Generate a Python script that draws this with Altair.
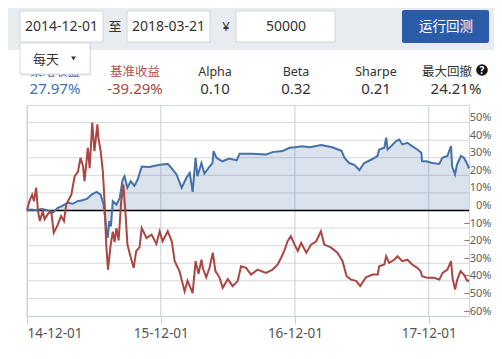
import altair as alt
import pandas as pd

# ---------------- data ----------------
blue_dates = ["2014-12-01", "2014-12-10", "2014-12-25", "2015-01-10", "2015-01-25", "2015-02-09", "2015-02-23",
              "2015-03-06", "2015-03-22", "2015-04-05", "2015-04-18", "2015-05-01", "2015-05-13", "2015-05-26",
              "2015-06-09", "2015-06-20", "2015-06-28", "2015-07-06", "2015-07-09", "2015-07-14", "2015-07-18",
              "2015-07-23", "2015-08-02", "2015-08-11", "2015-08-19", "2015-08-24", "2015-09-01", "2015-09-10",
              "2015-09-20", "2015-09-29", "2015-10-10", "2015-10-31", "2015-11-28", "2015-12-20", "2015-12-31",
              "2016-01-13", "2016-01-27", "2016-02-09", "2016-02-18", "2016-02-26", "2016-03-05", "2016-03-10",
              "2016-03-21", "2016-03-29", "2016-04-12", "2016-04-20", "2016-04-23", "2016-05-01", "2016-05-17",
              "2016-06-05", "2016-06-25", "2016-07-03", "2016-08-07", "2016-09-14", "2016-10-01", "2016-10-28",
              "2016-11-16", "2016-11-30", "2016-12-21", "2017-01-10", "2017-02-11", "2017-03-13", "2017-04-07",
              "2017-04-15", "2017-04-28", "2017-05-12", "2017-05-26", "2017-06-08", "2017-06-28", "2017-07-14",
              "2017-07-19", "2017-08-02", "2017-08-07", "2017-08-11", "2017-08-21", "2017-09-03", "2017-09-12",
              "2017-09-20", "2017-10-04", "2017-10-17", "2017-10-31", "2017-11-11", "2017-11-13", "2017-11-24",
              "2017-12-11", "2017-12-30", "2018-01-07", "2018-01-21", "2018-01-31", "2018-02-03", "2018-02-11",
              "2018-02-16", "2018-02-27", "2018-03-07", "2018-03-15", "2018-03-21"]
blue_vals = [0.0, 0.5, 0.3, 0.8, 0.2, -1.3, 1.5,
             2.5, 4.4, 3.8, 5.3, 5.8, 6.6, 9.0,
             10.6, 9.0, 3.4, -11.8, -15.6, -6.0, -9.0,
             5.3, 3.4, 7.0, 17.6, 19.5, 13.0, 16.7,
             14.0, 17.6, 25.0, 24.7, 26.0, 26.5, 24.0,
             20.5, 13.0, 18.6, 21.4, 10.6, 30.0, 19.5,
             27.0, 21.0, 25.0, 27.0, 33.8, 30.0, 28.0,
             29.6, 28.5, 32.3, 32.3, 31.9, 33.2, 33.8,
             35.7, 36.0, 36.6, 36.0, 37.2, 36.0, 34.0,
             30.0, 27.0, 26.0, 23.0, 27.0, 29.0, 31.0,
             34.7, 35.7, 41.4, 34.7, 36.6, 39.5, 40.4,
             37.6, 38.5, 36.6, 34.7, 32.8, 28.0, 28.0,
             27.0, 26.5, 30.0, 31.0, 36.6, 25.0, 20.5,
             26.0, 31.0, 30.0, 27.0, 24.0]

red_dates = ["2014-12-01", "2014-12-05", "2014-12-09", "2014-12-15", "2014-12-20", "2014-12-26", "2014-12-31",
             "2015-01-05", "2015-01-13", "2015-01-18", "2015-01-27", "2015-02-05", "2015-02-12", "2015-02-23",
             "2015-03-04", "2015-03-12", "2015-03-18", "2015-04-01", "2015-04-10", "2015-04-19", "2015-04-26",
             "2015-05-03", "2015-05-07", "2015-05-16", "2015-05-21", "2015-05-28", "2015-06-03", "2015-06-11",
             "2015-06-14", "2015-06-20", "2015-06-26", "2015-07-01", "2015-07-05", "2015-07-10", "2015-07-17",
             "2015-07-23", "2015-07-28", "2015-08-02", "2015-08-08", "2015-08-15", "2015-08-21", "2015-08-27",
             "2015-09-01", "2015-09-08", "2015-09-18", "2015-09-25", "2015-10-04", "2015-10-10", "2015-10-23",
             "2015-11-06", "2015-11-19", "2015-11-28", "2015-12-06", "2015-12-20", "2015-12-31", "2016-01-08",
             "2016-01-21", "2016-02-04", "2016-02-12", "2016-02-26", "2016-03-05", "2016-03-13", "2016-03-21",
             "2016-03-25", "2016-04-03", "2016-04-12", "2016-04-21", "2016-04-28", "2016-05-09", "2016-05-18",
             "2016-06-01", "2016-06-14", "2016-06-28", "2016-07-07", "2016-07-21", "2016-08-03", "2016-08-21",
             "2016-09-13", "2016-10-01", "2016-10-15", "2016-10-24", "2016-11-02", "2016-11-11", "2016-11-20",
             "2016-11-30", "2016-12-09", "2016-12-18", "2017-01-01", "2017-01-14", "2017-01-28", "2017-02-10",
             "2017-02-19", "2017-03-09", "2017-03-27", "2017-04-10", "2017-04-21", "2017-05-03", "2017-05-17",
             "2017-05-28", "2017-06-13", "2017-07-01", "2017-07-15", "2017-07-19", "2017-08-02", "2017-08-07",
             "2017-08-15", "2017-08-29", "2017-09-07", "2017-09-20", "2017-10-04", "2017-10-17", "2017-10-31",
             "2017-11-09", "2017-11-13", "2017-11-27", "2017-12-16", "2017-12-30", "2018-01-08", "2018-01-21",
             "2018-01-31", "2018-02-04", "2018-02-11", "2018-02-17", "2018-02-26", "2018-03-07", "2018-03-16",
             "2018-03-21"]
red_vals = [0.0, 3.4, 6.0, 9.0, 5.3, 13.0, -0.4,
            -6.0, -0.4, -5.0, -2.0, -0.4, -12.7, -8.0,
            -3.2, -6.0, 3.4, 9.0, 19.5, 22.0, 30.0,
            25.0, 16.7, 35.7, 24.0, 50.0, 33.8, 49.0,
            41.0, 33.8, 22.0, 3.4, -19.0, -33.6, -20.0,
            -12.0, -18.0, -10.0, -17.0, 5.0, 14.8, -2.3,
            -19.4, -25.0, -32.6, -23.0, -21.0, -10.0, -15.6,
            -13.7, -19.0, -11.8, -17.5, -11.8, -17.5, -28.8,
            -34.5, -46.0, -40.0, -47.0, -28.8, -36.0, -28.0,
            -33.0, -38.0, -32.6, -24.0, -34.5, -38.0, -44.0,
            -39.0, -43.0, -40.0, -31.7, -32.6, -36.4, -33.6,
            -35.5, -33.6, -30.7, -27.0, -23.0, -17.5, -14.6,
            -19.4, -23.0, -18.4, -24.0, -19.4, -17.5, -11.8,
            -19.4, -21.0, -24.0, -28.8, -37.4, -39.3, -40.0,
            -43.0, -38.0, -36.4, -36.4, -31.7, -30.7, -26.0,
            -29.8, -28.0, -26.0, -28.8, -28.0, -30.7, -32.6,
            -34.5, -37.4, -38.3, -38.3, -39.3, -35.5, -33.6,
            -28.8, -38.3, -45.0, -39.3, -34.5, -36.4, -40.0,
            -40.0]

x_tick_dates = ["2014-12-01", "2015-12-01", "2016-12-01", "2017-12-01"]
y_ticks = [-60, -50, -40, -30, -20, -10, 0, 10, 20, 30, 40, 50]
y_grid = [-50, -40, -30, -20, -10, 10, 20, 30, 40, 50]

start_text, end_text, capital_text = "2014-12-01", "2018-03-21", "50000"
freq_text = "每天"
run_text = "运行回测"
stat_names = ["策略收益", "基准收益", "Alpha", "Beta", "Sharpe", "最大回撤"]
stat_values = ["27.97%", "-39.29%", "0.10", "0.32", "0.21", "24.21%"]

# ---------------- layout helpers ----------------
OX, OY = 27, 105          # page position of the plot area's top-left corner
W, H = 442, 211

def vx(x):
    return x - OX

def vy(y):
    return y - OY

one = pd.DataFrame({"k": [0]})
LATIN = "Noto Sans"
CJK = "Noto Sans CJK SC"

def box(x1, y1, x2, y2, fill, stroke=None, radius=0, opacity=1.0):
    kw = dict(fill=fill, opacity=opacity, cornerRadius=radius)
    if stroke:
        kw.update(stroke=stroke, strokeWidth=1)
    return alt.Chart(one).mark_rect(**kw).encode(
        x=alt.value(vx(x1)), x2=alt.value(vx(x2)),
        y=alt.value(vy(y1)), y2=alt.value(vy(y2)))

def label(text, x, y, size, color, font=LATIN, weight="normal", align="center"):
    return alt.Chart(one).mark_text(
        text=text, fontSize=size, color=color, font=font, fontWeight=weight,
        align=align, baseline="middle").encode(x=alt.value(vx(x)), y=alt.value(vy(y)))

ui = []
ui.append(box(0, 0, 520, 50, "#E8EBF0"))
# inputs
ui.append(box(20, 11, 103, 42, "#FFFFFF", stroke="#D2D5DA"))
ui.append(label(start_text, 61.5, 26.5, 14, "#333333"))
ui.append(label("至", 115, 26.5, 13, "#333333", font=CJK))
ui.append(box(127, 11, 210, 42, "#FFFFFF", stroke="#D2D5DA"))
ui.append(label(end_text, 168.5, 26.5, 14, "#333333"))
ui.append(label("¥", 226, 26.5, 13, "#333333"))
ui.append(box(236, 11, 335, 42, "#FFFFFF", stroke="#D2D5DA"))
ui.append(label(capital_text, 286, 26.5, 14, "#333333"))
# button
ui.append(box(402, 10, 489, 43, "#2A5CAA", radius=2))
ui.append(label(run_text, 446, 27, 13.5, "#FFFFFF", font=CJK))

# statistics
stat_x = [55, 135, 215, 296, 376, 447]
value_x = [55, 135, 215, 296, 376, 456]
label_colors = ["#4572A7", "#B0504D", "#333333", "#333333", "#333333", "#333333"]
value_colors = ["#3F6FAE", "#A94442", "#333333", "#333333", "#333333", "#333333"]
for i, (n, v) in enumerate(zip(stat_names, stat_values)):
    f = CJK if any(ord(c) > 127 for c in n) else LATIN
    ui.append(label(n, stat_x[i], 71.5, 12.5, label_colors[i], font=f))
    ui.append(label(v, value_x[i], 89, 15, value_colors[i]))
# help icon
ui.append(alt.Chart(one).mark_point(shape="circle", filled=True, color="#111111", size=135, opacity=1).encode(
    x=alt.value(vx(482)), y=alt.value(vy(70))))
ui.append(label("?", 482, 70.5, 10, "#FFFFFF", weight="bold"))

# dropdown (drawn over the first stat label)
ui.append(box(21, 44, 91, 76, "#000000", opacity=0.07))
ui.append(box(20, 43, 90, 74, "#FFFFFF", stroke="#D8DADD"))
ui.append(label(freq_text, 46, 60, 13, "#333333", font=CJK))
ui.append(alt.Chart(one).mark_point(shape="triangle-down", filled=True, color="#333333", size=22, opacity=1).encode(
    x=alt.value(vx(73.5)), y=alt.value(vy(58.5))))

# ---------------- plot ----------------
df_blue = pd.DataFrame({"date": pd.to_datetime(blue_dates), "ret": blue_vals})
df_red = pd.DataFrame({"date": pd.to_datetime(red_dates), "ret": red_vals})
df_zero = pd.DataFrame({"ret": [0.0]})
df_hgrid = pd.DataFrame({"ret": y_grid})
df_vgrid = pd.DataFrame({"date": pd.to_datetime(x_tick_dates)})

x_enc = alt.X(
    "date:T",
    scale=alt.Scale(domain=[alt.DateTime(year=2014, month=12, date=1),
                            alt.DateTime(year=2018, month=3, date=21)]),
    axis=alt.Axis(
        values=[alt.DateTime(year=int(s[:4]), month=int(s[5:7]), date=int(s[8:])) for s in x_tick_dates],
        format="%y-%m-%d", title=None, grid=False,
        domainColor="#C0D0E0", tickColor="#C0D0E0", tickSize=8,
        labelFlush=True, labelOverlap=False, labelFont=LATIN, labelFontSize=13.5,
        labelColor="#555555", labelPadding=2))
y_enc = alt.Y(
    "ret:Q",
    scale=alt.Scale(domain=[-60, 60], nice=False, zero=False),
    axis=alt.Axis(
        orient="right", values=y_ticks, title=None, grid=False,
        domain=False, ticks=False, tickSize=0, labelAlign="right", labelPadding=22,
        labelBaseline="alphabetic", labelOffset=-2, labelOverlap=False,
        labelExpr="format(datum.value, 'd') + '%'",
        labelFont=LATIN, labelFontSize=11, labelColor="#606060"))

hgrid = alt.Chart(df_hgrid).mark_rule(color="#D8D8D8", strokeWidth=1).encode(y=y_enc)
vgrid = alt.Chart(df_vgrid).mark_rule(color="#C8CFD8", strokeWidth=1).encode(x=x_enc)
area = alt.Chart(df_blue).mark_area(color="#4572A7", opacity=0.2).encode(
    x=x_enc, y=y_enc, y2=alt.datum(0))
zero = alt.Chart(df_zero).mark_rule(color="#000000", strokeWidth=1.3).encode(y=y_enc)
blue_line = alt.Chart(df_blue).mark_line(color="#4472A8", strokeWidth=2).encode(x=x_enc, y=y_enc)
red_line = alt.Chart(df_red).mark_line(color="#AA4643", strokeWidth=2).encode(x=x_enc, y=y_enc)

chart = alt.layer(hgrid, vgrid, area, zero, blue_line, red_line, *ui).properties(
    width=W, height=H,
    padding={"left": OX - 8, "top": OY - 8, "right": 25, "bottom": 32},
    autosize=alt.AutoSizeParams(type="none"),
    background="#FFFFFF",
).configure_view(stroke="#D3D7DD", strokeWidth=1)

chart.save("out.html", embed_options={"renderer": "svg", "actions": False})
